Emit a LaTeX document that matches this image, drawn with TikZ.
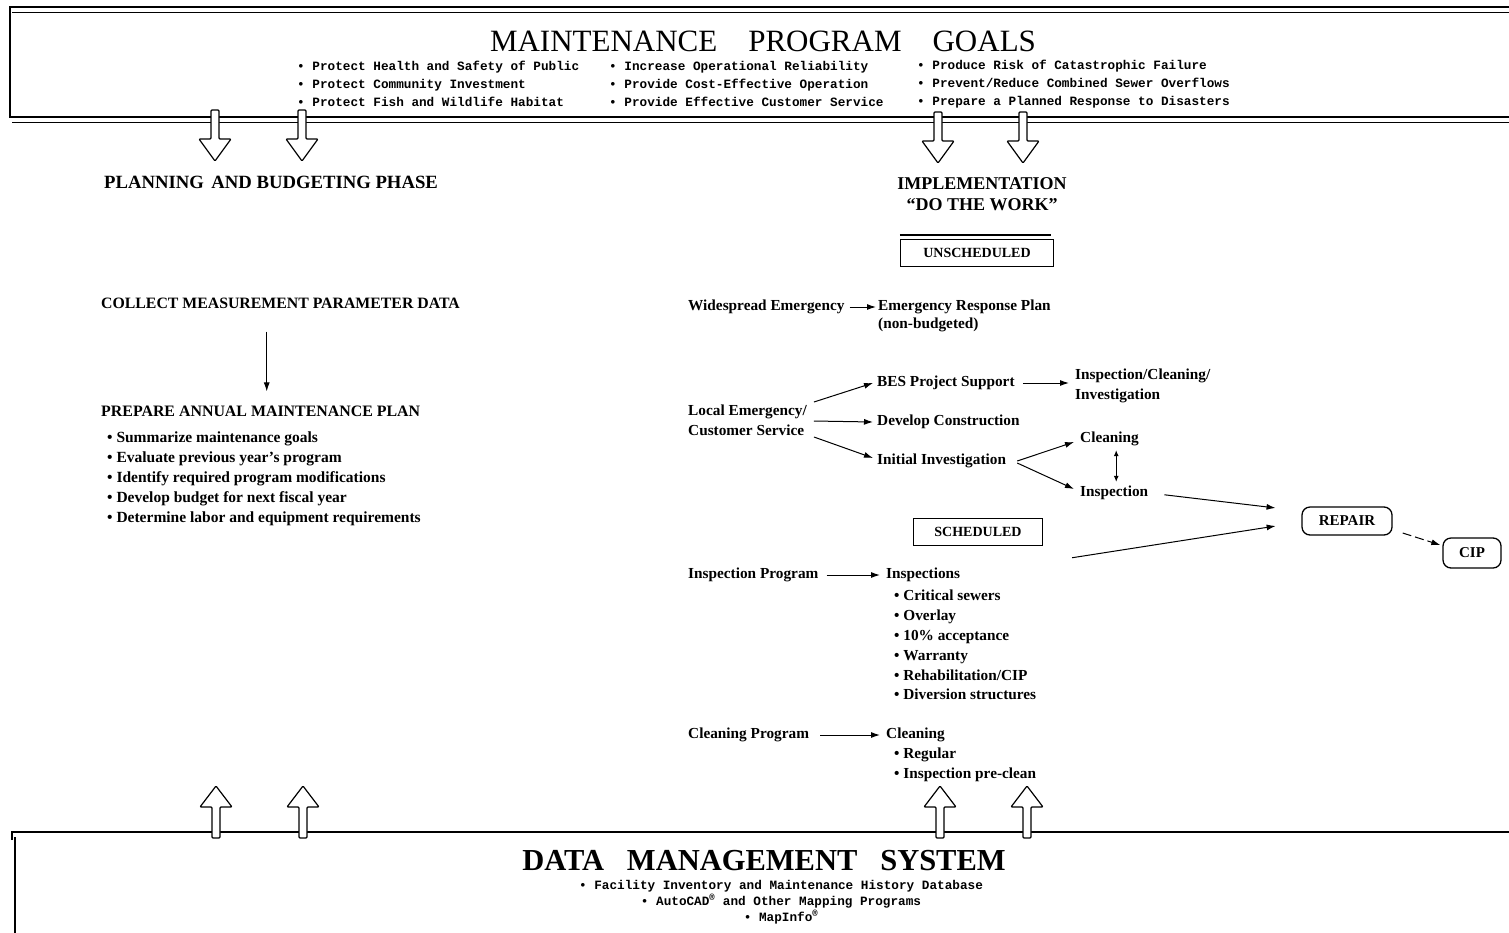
\documentclass[tikz,border=0pt]{standalone}
\usepackage{fontspec}
\setmainfont{Liberation Serif}
\newfontfamily\goalfont{Liberation Mono}
\usetikzlibrary{arrows.meta}

\tikzset{
  lbl/.style={font=\fontsize{15.3}{19.8}\selectfont\bfseries, inner sep=1pt, anchor=west, align=left},
  phasehead/.style={font=\fontsize{18}{21}\selectfont\bfseries, inner sep=1pt},
  goal/.style={font=\goalfont\bfseries\fontsize{12.7}{18}\selectfont, inner sep=0pt, anchor=west, align=left},
  arr/.style={-{Latex[length=9pt,width=6pt]}, line width=1pt},
  workbox/.style={draw, line width=1.2pt, inner sep=0pt, minimum height=27pt, font=\fontsize{14}{16}\selectfont\bfseries},
  endbox/.style={draw, rounded corners=8pt, line width=1.3pt, inner sep=0pt, font=\fontsize{15}{17}\selectfont\bfseries},
  hollow down/.pic={
    \draw[fill=white, line width=1.2pt, rounded corners=1pt]
      (-4,0) -- (-4,29) -- (-16,29) -- (0,51) -- (16,29) -- (4,29) -- (4,0) -- cycle;
  },
  hollow up/.pic={
    \draw[fill=white, line width=1.2pt, rounded corners=1pt]
      (-4,52) -- (-4,21) -- (-16,21) -- (0,0) -- (16,21) -- (4,21) -- (4,52) -- cycle;
  },
}

\begin{document}
\begin{tikzpicture}[x=1pt,y=-1pt]

\clip
(0,0)
rectangle
(1509,932);

\useasboundingbox
(0,0)
rectangle
(1509,932);

% Goals box
\draw[line width=2.6pt]
(1520,7)
--
(10,7)
--
(10,117)
--
(1520,117);

\draw[line width=0.7pt]
(12,12)
--
(1520,12);

\draw[line width=0.7pt]
(12,122)
--
(1520,122);

\node[font=\fontsize{31}{34}\selectfont]
(goals)
at (763,41)
{MAINTENANCE\hspace{1em}PROGRAM\hspace{1em}GOALS};

\node[goal]
(goalsa)
at (297,84)
{• Protect Health and Safety of Public\\
• Protect Community Investment\\
• Protect Fish and Wildlife Habitat};

\node[goal]
(goalsb)
at (609,84)
{• Increase Operational Reliability\\
• Provide Cost-Effective Operation\\
• Provide Effective Customer Service};

\node[goal]
(goalsc)
at (917,84)
{• Produce Risk of Catastrophic Failure\\
• Prevent/Reduce Combined Sewer Overflows\\
• Prepare a Planned Response to Disasters};

% Data management box
\draw[line width=1.2pt]
(12,840)
--
(12,832)
--
(1520,832);

\draw[line width=2.6pt]
(15,837)
--
(15,940);

\node[font=\fontsize{30.5}{33}\selectfont\bfseries]
(dms)
at (764,861)
{DATA\hspace{0.75em}MANAGEMENT\hspace{0.75em}SYSTEM};

\node[goal, anchor=center, align=center, font=\goalfont\bfseries\fontsize{12.7}{16}\selectfont]
(dmslist)
at (781,902)
{• Facility Inventory and Maintenance History Database\\
• AutoCAD\textsuperscript{®} and Other Mapping Programs\\
• MapInfo\textsuperscript{®}};

% Hollow arrows
\pic at (215,110) {hollow down};
\pic at (302,110) {hollow down};
\pic at (938,112) {hollow down};
\pic at (1023,112) {hollow down};

\pic at (216,786) {hollow up};
\pic at (303,786) {hollow up};
\pic at (940,786) {hollow up};
\pic at (1027,786) {hollow up};

% Planning
\node[phasehead, anchor=west, font=\fontsize{18.7}{21}\selectfont\bfseries]
(plan)
at (103,182)
{PLANNING\hspace{0.4em}AND BUDGETING PHASE};

\node[lbl, font=\fontsize{15.8}{18}\selectfont\bfseries]
(collect)
at (100,303)
{COLLECT MEASUREMENT PARAMETER DATA};

\node[lbl, font=\fontsize{15.9}{18}\selectfont\bfseries]
(prepare)
at (100,411)
{PREPARE ANNUAL MAINTENANCE PLAN};

\draw[arr, shorten <=22pt, shorten >=13pt]
([xshift=6pt]prepare.north |- collect.south)
--
([xshift=6pt]prepare.north);

\node[lbl, anchor=north west, font=\fontsize{15.5}{19.8}\selectfont\bfseries]
(preplist)
at (106,431)
{• Summarize maintenance goals\\
• Evaluate previous year's program\\
• Identify required program modifications\\
• Develop budget for next fiscal year\\
• Determine labor and equipment requirements};

% Implementation
\node[phasehead, align=center]
(impl)
at (982,194)
{IMPLEMENTATION\\``DO THE WORK''};

\node[workbox, minimum width=153pt]
(unsched)
at (977,253)
{UNSCHEDULED};

\draw[line width=1.6pt]
([yshift=4pt]unsched.north west)
--
([yshift=4pt,xshift=-3pt]unsched.north east);

% Widespread
\node[lbl]
(wide)
at (687,307)
{Widespread Emergency};

\node[lbl]
(erp)
at (877,307)
{Emergency Response Plan};

\node[lbl, anchor=north west]
(nonbudget)
at (877,317)
{(non-budgeted)};

\draw[arr, shorten <=4pt, shorten >=1pt]
(wide.east)
--
(erp.west);

% Local
\node[lbl]
(local)
at (687,420)
{Local Emergency/\\Customer Service};

\node[lbl]
(bes)
at (876,383)
{BES Project Support};

\node[lbl]
(icinv)
at (1074,386)
{Inspection/Cleaning/\\Investigation};

\node[lbl]
(devcon)
at (876,422)
{Develop Construction};

\node[lbl]
(init)
at (876,461)
{Initial Investigation};

\node[lbl]
(clean)
at (1079,439)
{Cleaning};

\node[lbl]
(insp)
at (1079,493)
{Inspection};

\draw[arr]
([xshift=6pt,yshift=18pt]local.east)
--
([xshift=-3pt]bes.west);

\draw[arr]
([xshift=6pt,yshift=-1pt]local.east)
--
([xshift=-3pt]devcon.west);

\draw[arr]
([xshift=6pt,yshift=-17pt]local.east)
--
([xshift=-3pt,yshift=3pt]init.west);

\draw[arr, shorten <=7pt, shorten >=5pt]
(bes.east)
--
(bes.east -| icinv.west);

\draw[arr]
([xshift=10pt]init.east)
--
([xshift=-5pt,yshift=-3pt]clean.west);

\draw[arr]
([xshift=10pt,yshift=-2pt]init.east)
--
([xshift=-5pt,yshift=4pt]insp.west);

\draw[{Latex[length=6pt,width=5pt]}-{Latex[length=6pt,width=5pt]}, line width=1pt]
([xshift=2pt,yshift=-3pt]clean.south -| insp.north)
--
([xshift=2pt,yshift=3pt]insp.north);

% Repair
\node[endbox, minimum width=90pt, minimum height=28pt]
(repair)
at (1347,521)
{REPAIR};

\node[endbox, minimum width=58pt, minimum height=30pt]
(cip)
at (1472,553)
{CIP};

\draw[arr, shorten <=15pt, shorten >=26pt]
(insp.east)
--
([yshift=10pt]repair.west);

\draw[arr, dashed, dash pattern=on 9pt off 4pt]
([xshift=10pt,yshift=-12pt]repair.east)
--
([xshift=-2pt,yshift=8pt]cip.west);

% Scheduled
\node[workbox, minimum width=129pt]
(sched)
at (978,532)
{SCHEDULED};

\node[lbl]
(insprog)
at (687,575)
{Inspection Program};

\node[lbl]
(insps)
at (885,575)
{Inspections};

\node[lbl, anchor=north west]
(inspslist)
at (893,589)
{• Critical sewers\\
• Overlay\\
• 10\% acceptance\\
• Warranty\\
• Rehabilitation/CIP\\
• Diversion structures};

\draw[arr, shorten <=7pt, shorten >=5pt]
(insprog.east)
--
(insps.west);

\draw[arr, shorten <=112pt, shorten >=26pt]
(insps.east)
--
([yshift=-1pt]repair.west);

\node[lbl]
(cleanprog)
at (687,735)
{Cleaning Program};

\node[lbl]
(cleans)
at (885,735)
{Cleaning};

\node[lbl, anchor=north west]
(cleanslist)
at (893,747)
{• Regular\\
• Inspection pre-clean};

\draw[arr, shorten <=10pt, shorten >=5pt]
(cleanprog.east)
--
(cleans.west);

\end{tikzpicture}
\end{document}
